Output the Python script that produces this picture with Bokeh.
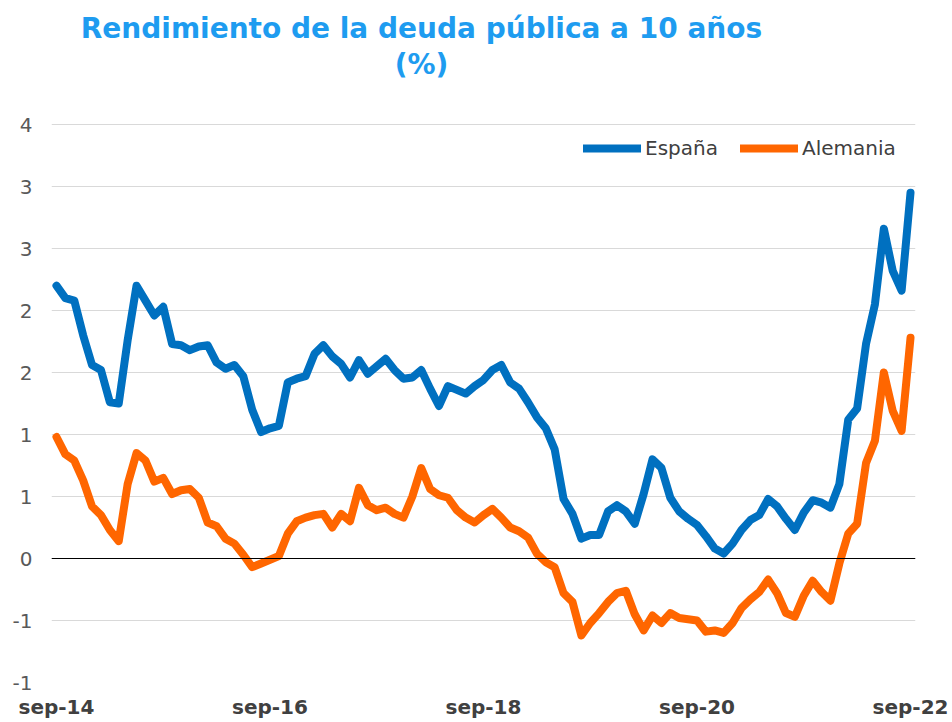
from bokeh.plotting import figure
from bokeh.models import Range1d, FixedTicker, Span, Label, Legend, LegendItem
from bokeh.embed import file_html
from bokeh.resources import INLINE
import pandas as pd

# ---- data (monthly averages, sep-14 .. sep-22) ----
spain = [2.20, 2.10, 2.08, 1.80, 1.56, 1.52, 1.26, 1.25, 1.76, 2.20,
         2.08, 1.96, 2.03, 1.73, 1.72, 1.68, 1.71, 1.72, 1.58, 1.53,
         1.56, 1.47, 1.20, 1.02, 1.05, 1.07, 1.42, 1.45, 1.47, 1.65,
         1.72, 1.63, 1.57, 1.46, 1.60, 1.49, 1.55, 1.61, 1.52, 1.45,
         1.46, 1.52, 1.37, 1.23, 1.39, 1.36, 1.33, 1.39, 1.44, 1.52,
         1.56, 1.42, 1.37, 1.26, 1.14, 1.05, 0.88, 0.48, 0.36, 0.16,
         0.19, 0.19, 0.38, 0.43, 0.38, 0.28, 0.52, 0.80, 0.73, 0.49,
         0.38, 0.32, 0.27, 0.18, 0.08, 0.04, 0.12, 0.23, 0.31, 0.35,
         0.48, 0.42, 0.32, 0.23, 0.37, 0.47, 0.45, 0.41, 0.60, 1.12,
         1.21, 1.73, 2.05, 2.66, 2.32, 2.16, 2.95]
germany = [0.98, 0.84, 0.79, 0.63, 0.42, 0.35, 0.23, 0.14, 0.60, 0.85,
           0.79, 0.62, 0.65, 0.52, 0.55, 0.56, 0.49, 0.29, 0.26, 0.16,
           0.12, 0.03, -0.07, -0.04, -0.01, 0.02, 0.20, 0.30, 0.33, 0.35,
           0.36, 0.25, 0.36, 0.30, 0.57, 0.43, 0.39, 0.41, 0.36, 0.33,
           0.50, 0.73, 0.56, 0.51, 0.49, 0.39, 0.33, 0.29, 0.35, 0.40,
           0.33, 0.25, 0.22, 0.17, 0.04, -0.03, -0.07, -0.28, -0.35, -0.62,
           -0.52, -0.44, -0.35, -0.28, -0.26, -0.45, -0.58, -0.46, -0.52, -0.44,
           -0.48, -0.49, -0.50, -0.59, -0.58, -0.60, -0.52, -0.40, -0.33, -0.27,
           -0.17, -0.28, -0.44, -0.47, -0.30, -0.18, -0.27, -0.34, -0.04, 0.20,
           0.28, 0.77, 0.95, 1.50, 1.19, 1.03, 1.78]
series_names = ["España", "Alemania"]
x_tick_labels = ["sep-14", "sep-16", "sep-18", "sep-20", "sep-22"]
y_tick_values = [-1.0, -0.5, 0.0, 0.5, 1.0, 1.5, 2.0, 2.5, 3.0, 3.5]
y_tick_labels = ["-1", "-1", "0", "1", "1", "2", "2", "3", "3", "4"]
title_lines = ["Rendimiento de la deuda pública a 10 años", "(%)"]

mes = ["ene", "feb", "mar", "abr", "may", "jun", "jul", "ago", "sep", "oct", "nov", "dic"]
dates = pd.date_range("2014-09-01", periods=len(spain), freq="MS")
months = [f"{mes[d.month - 1]}-{d.year % 100:02d}" for d in dates]
x = list(range(len(months)))
x_ticks = [months.index(lbl) for lbl in x_tick_labels]

FONT = "DejaVu Sans"

# frame extends up to the top of the canvas so the title can live inside it
p = figure(width=952, height=722, output_backend="svg", toolbar_location=None,
           x_range=Range1d(-0.56, len(x) - 1 + 0.56), y_range=Range1d(-1.0, 4.5),
           min_border_left=51, min_border_right=37, min_border_top=0, min_border_bottom=40)
p.outline_line_color = None
p.background_fill_color = "white"
p.border_fill_color = "white"

# axes
p.xaxis.ticker = FixedTicker(ticks=x_ticks)
p.xaxis.major_label_overrides = {t: l for t, l in zip(x_ticks, x_tick_labels)}
p.yaxis.ticker = FixedTicker(ticks=y_tick_values)
p.yaxis.major_label_overrides = {t: l for t, l in zip(y_tick_values, y_tick_labels)}
for ax in (p.xaxis, p.yaxis):
    ax.axis_line_color = None
    ax.major_tick_line_color = None
    ax.minor_tick_line_color = None
    ax.major_tick_in = 0
    ax.major_tick_out = 0
    ax.major_label_text_font = FONT
    ax.major_label_text_font_size = "20px"
p.xaxis.major_label_text_font_style = "bold"
p.xaxis.major_label_text_color = "#404040"
p.xaxis.major_label_standoff = 12
p.yaxis.major_label_text_color = "#595959"
p.yaxis.major_label_standoff = 19

p.xgrid.grid_line_color = None
p.ygrid.ticker = FixedTicker(ticks=y_tick_values)
p.ygrid.grid_line_color = "#D9D9D9"
p.ygrid.grid_line_width = 1

p.add_layout(Span(location=0, dimension="width", line_color="black", line_width=1))

r1 = p.line(x, spain, line_color="#0070C0", line_width=8, line_join="round", line_cap="round")
r2 = p.line(x, germany, line_color="#FF6600", line_width=8, line_join="round", line_cap="round")

legend = Legend(items=[LegendItem(label=series_names[0], renderers=[r1]),
                       LegendItem(label=series_names[1], renderers=[r2])],
                orientation="horizontal", location=(532, 522),
                glyph_width=58, glyph_height=20, label_height=20, label_standoff=4,
                spacing=22, padding=0, margin=0, border_line_color=None,
                background_fill_alpha=0, label_text_font=FONT,
                label_text_font_size="20px", label_text_color="#404040")
p.add_layout(legend)

for txt, yy in zip(title_lines, [654, 618]):
    p.add_layout(Label(x=370, y=yy, x_units="screen", y_units="screen", text=txt,
                       text_align="center", text_baseline="middle",
                       text_font=FONT, text_font_style="bold",
                       text_font_size="28px", text_color="#1E9CF0"))

open("out.html", "w").write(file_html(p, INLINE))
